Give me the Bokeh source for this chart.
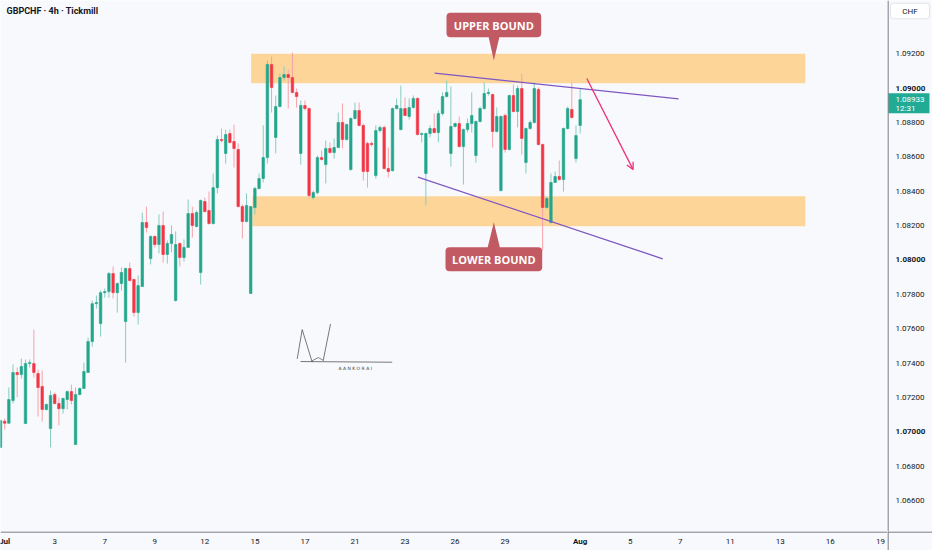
from bokeh.plotting import figure
from bokeh.layouts import row, column
from bokeh.models import Range1d, Label, Arrow, OpenHead, ColumnDataSource, Span
from bokeh.core.properties import value
from bokeh.embed import file_html
from bokeh.resources import INLINE

# ---------------- data (GBPCHF 4h candles) ----------------
opens = [
1.06909, 1.07062, 1.07050, 1.07182, 1.07345, 1.07333, 1.07048, 1.07397, 1.07397, 1.07339,
1.07264, 1.07130, 1.07019, 1.07217, 1.07165, 1.07135, 1.07188, 1.07234, 1.06926, 1.07217,
1.07252, 1.07345, 1.07525, 1.07746, 1.07630, 1.07810, 1.07816, 1.07921, 1.07810, 1.07863,
1.07642, 1.07950, 1.07886, 1.07694, 1.07845, 1.08218, 1.08008, 1.08137, 1.08090, 1.08201,
1.08032, 1.08096, 1.07764, 1.08096, 1.08014, 1.08073, 1.08270, 1.08195, 1.07927, 1.08340,
1.08288, 1.08212, 1.08421, 1.08701, 1.08620, 1.08736, 1.08689, 1.08643, 1.08311, 1.08224,
1.07805, 1.08305, 1.08416, 1.08474, 1.08596, 1.09138, 1.08713, 1.08893, 1.09062, 1.09079,
1.09062, 1.08975, 1.08620, 1.08899, 1.08881, 1.08363, 1.08392, 1.08596, 1.08555, 1.08649,
1.08625, 1.08654, 1.08800, 1.08701, 1.08526, 1.08823, 1.08870, 1.08783, 1.08678, 1.08678,
1.08491, 1.08753, 1.08771, 1.08532, 1.08520, 1.08881, 1.08759, 1.08881, 1.08835, 1.08887,
1.08940, 1.08730, 1.08503, 1.08736, 1.08765, 1.08742, 1.08852, 1.08951, 1.08620, 1.08777,
1.08794, 1.08660, 1.08759, 1.08794, 1.08608, 1.08806, 1.08881, 1.08969, 1.08963, 1.08748,
1.08404, 1.08841, 1.08643, 1.08957, 1.08864, 1.08998, 1.08567, 1.08765, 1.08800, 1.08992,
1.08672, 1.08305, 1.08218, 1.08451, 1.08486, 1.08468, 1.08765, 1.08876, 1.08590, 1.08783,
]
highs = [
1.07066, 1.07077, 1.07258, 1.07392, 1.07374, 1.07426, 1.07421, 1.07421, 1.07595, 1.07362,
1.07357, 1.07165, 1.07240, 1.07229, 1.07200, 1.07200, 1.07240, 1.07275, 1.07258, 1.07258,
1.07403, 1.07549, 1.07764, 1.07793, 1.07822, 1.07834, 1.07930, 1.07962, 1.07869, 1.07956,
1.07956, 1.07985, 1.07892, 1.07910, 1.08276, 1.08311, 1.08143, 1.08143, 1.08265, 1.08282,
1.08114, 1.08201, 1.08166, 1.08102, 1.08120, 1.08352, 1.08311, 1.08288, 1.08352, 1.08363,
1.08398, 1.08503, 1.08724, 1.08765, 1.08759, 1.08759, 1.08788, 1.08678, 1.08323, 1.08387,
1.08311, 1.08427, 1.08503, 1.08783, 1.09161, 1.09184, 1.08957, 1.09085, 1.09126, 1.09108,
1.09207, 1.08998, 1.08928, 1.08928, 1.08887, 1.08404, 1.08608, 1.08637, 1.08695, 1.08684,
1.08707, 1.08858, 1.08911, 1.08794, 1.08830, 1.08916, 1.08916, 1.08794, 1.08689, 1.08689,
1.08783, 1.08783, 1.08783, 1.08654, 1.08887, 1.08940, 1.09015, 1.08946, 1.08940, 1.08957,
1.08946, 1.08742, 1.08742, 1.08783, 1.08852, 1.08870, 1.08975, 1.09044, 1.09010, 1.08800,
1.08835, 1.08765, 1.08823, 1.08975, 1.08812, 1.08893, 1.09033, 1.08998, 1.08969, 1.08887,
1.08841, 1.08852, 1.08963, 1.09021, 1.09015, 1.09085, 1.08771, 1.08812, 1.09033, 1.09004,
1.08678, 1.08369, 1.08503, 1.08515, 1.08579, 1.08771, 1.08893, 1.09033, 1.08783, 1.08998,
]
lows = [
1.06909, 1.07013, 1.07048, 1.07165, 1.07200, 1.07310, 1.07048, 1.07374, 1.07316, 1.07089,
1.07060, 1.07124, 1.06909, 1.07159, 1.07037, 1.07106, 1.07130, 1.07159, 1.06926, 1.07211,
1.07252, 1.07345, 1.07496, 1.07717, 1.07554, 1.07781, 1.07781, 1.07776, 1.07694, 1.07822,
1.07403, 1.07875, 1.07671, 1.07624, 1.07845, 1.08160, 1.07974, 1.08073, 1.08038, 1.07985,
1.07979, 1.08044, 1.07758, 1.07962, 1.07991, 1.08073, 1.08131, 1.08189, 1.07857, 1.08276,
1.08206, 1.08206, 1.08387, 1.08684, 1.08561, 1.08678, 1.08538, 1.08305, 1.08125, 1.08218,
1.07805, 1.08265, 1.08410, 1.08451, 1.08561, 1.08858, 1.08620, 1.08887, 1.09044, 1.08881,
1.08969, 1.08887, 1.08555, 1.08870, 1.08363, 1.08352, 1.08381, 1.08579, 1.08445, 1.08620,
1.08590, 1.08654, 1.08649, 1.08695, 1.08520, 1.08818, 1.08777, 1.08462, 1.08421, 1.08660,
1.08474, 1.08742, 1.08526, 1.08480, 1.08515, 1.08876, 1.08753, 1.08835, 1.08818, 1.08881,
1.08724, 1.08684, 1.08317, 1.08713, 1.08736, 1.08684, 1.08841, 1.08946, 1.08544, 1.08771,
1.08654, 1.08439, 1.08742, 1.08742, 1.08567, 1.08800, 1.08876, 1.08957, 1.08654, 1.08742,
1.08398, 1.08625, 1.08637, 1.08858, 1.08771, 1.08614, 1.08503, 1.08759, 1.08794, 1.08666,
1.08055, 1.08299, 1.08212, 1.08451, 1.08462, 1.08398, 1.08759, 1.08823, 1.08567, 1.08736,
]
closes = [
1.07066, 1.07050, 1.07188, 1.07345, 1.07333, 1.07380, 1.07397, 1.07403, 1.07345, 1.07258,
1.07130, 1.07159, 1.07211, 1.07165, 1.07135, 1.07194, 1.07234, 1.07182, 1.07217, 1.07252,
1.07351, 1.07525, 1.07746, 1.07752, 1.07810, 1.07816, 1.07921, 1.07810, 1.07863, 1.07927,
1.07950, 1.07880, 1.07694, 1.07851, 1.08218, 1.08189, 1.08137, 1.08090, 1.08201, 1.08032,
1.08096, 1.08148, 1.08090, 1.08014, 1.08073, 1.08270, 1.08201, 1.08276, 1.08346, 1.08282,
1.08212, 1.08421, 1.08701, 1.08695, 1.08730, 1.08684, 1.08649, 1.08311, 1.08224, 1.08317,
1.08311, 1.08416, 1.08474, 1.08596, 1.09138, 1.09004, 1.08893, 1.09062, 1.09079, 1.09062,
1.08975, 1.08951, 1.08899, 1.08881, 1.08375, 1.08392, 1.08596, 1.08585, 1.08649, 1.08625,
1.08654, 1.08800, 1.08701, 1.08788, 1.08823, 1.08870, 1.08783, 1.08515, 1.08515, 1.08672,
1.08753, 1.08771, 1.08532, 1.08515, 1.08881, 1.08899, 1.08881, 1.08841, 1.08887, 1.08940,
1.08730, 1.08736, 1.08736, 1.08765, 1.08742, 1.08852, 1.08951, 1.08975, 1.08777, 1.08794,
1.08660, 1.08759, 1.08794, 1.08841, 1.08806, 1.08881, 1.08969, 1.08975, 1.08748, 1.08835,
1.08835, 1.08643, 1.08957, 1.08864, 1.08998, 1.08707, 1.08765, 1.08800, 1.08998, 1.08672,
1.08305, 1.08358, 1.08451, 1.08486, 1.08468, 1.08765, 1.08881, 1.08829, 1.08724, 1.08933,
]

x_tick_pos = [1, 13, 25, 37, 49, 61, 73, 85, 97, 109, 121, 139, 151, 163, 175, 187, 199, 211]
x_tick_labels = ["Jul", "3", "7", "9", "12", "15", "17", "21", "23", "26", "29",
                 "Aug", "5", "7", "11", "13", "16", "19"]
x_bold = ["Jul", "Aug"]
y_ticks = [1.066, 1.068, 1.070, 1.072, 1.074, 1.076, 1.078, 1.080,
           1.082, 1.084, 1.086, 1.088, 1.090, 1.092]
y_bold = [1.070, 1.080, 1.090]
last_price = 1.08933
countdown = "12:31"
currency = "CHF"

# zones, trendlines (data coordinates)
upper_zone = dict(left=60.1, right=193.0, bottom=1.09029, top=1.09200)
lower_zone = dict(left=60.4, right=193.0, bottom=1.08197, top=1.08371)
upper_line_x = [104.1, 162.6]
upper_line_y = [1.09087, 1.08938]
lower_line_x = [100.1, 158.8]
lower_line_y = [1.08482, 1.08007]

# ---------------- style ----------------
BG = "#F8F9FD"
GREEN = "#22A68C"
RED = "#F23645"
GREEN_W = "#86CDBF"
RED_W = "#F7A2A9"
ZONE = "#FDD599"
LBL = "#C25A63"
PURPLE = "#7E57C2"
PINK = "#F0307A"
TXT = "#131722"
AXL = "#50535E"
FONT = "Roboto"

Y0, Y1 = 1.06420, 1.09510
XMAX = 212.7
W_MAIN, W_SCALE, H_MAIN, H_TIME = 887, 45, 531, 19
PX = (Y1 - Y0) / H_MAIN   # price units per pixel


def panel(w, h, xr, yr):
    f = figure(width=w, height=h, x_range=xr, y_range=yr, x_axis_location=None,
               y_axis_location=None, output_backend="svg", toolbar_location=None,
               min_border_left=0, min_border_top=0, min_border_right=0, min_border_bottom=0,
               background_fill_color=BG, border_fill_color=BG)
    f.outline_line_color = None
    f.grid.visible = False
    return f


p = panel(W_MAIN, H_MAIN, Range1d(0, XMAX), Range1d(Y0, Y1))

# zones
p.quad(**upper_zone, fill_color=ZONE, line_color=None)
p.quad(**lower_zone, fill_color=ZONE, line_color=None)

# candles
idx = list(range(len(opens)))
up = [c >= o for o, c in zip(opens, closes)]
src = ColumnDataSource(dict(
    x=idx, o=opens, h=highs, l=lows, c=closes,
    top=[max(o, c) for o, c in zip(opens, closes)],
    bot=[min(o, c) for o, c in zip(opens, closes)],
    col=[GREEN if u else RED for u in up],
    wcol=[GREEN_W if u else RED_W for u in up],
))
p.segment(x0="x", x1="x", y0="l", y1="h", color="wcol", line_width=1, source=src)
p.vbar(x="x", top="top", bottom="bot", width=0.6, fill_color="col",
       line_color="col", line_width=0.6, source=src)

# trend lines
p.line(upper_line_x, upper_line_y, line_color=PURPLE, line_width=1.3)
p.line(lower_line_x, lower_line_y, line_color=PURPLE, line_width=1.3)

# bound labels
p.quad(left=[106.95, 106.71], right=[129.66, 129.90], bottom=[1.09296, 1.07935],
       top=[1.09438, 1.08074], fill_color=LBL, line_color=None, border_radius=4)
p.patch([117.03, 119.66, 118.3], [1.09300, 1.09300, 1.09161], fill_color=LBL, line_color=None)
p.patch([116.79, 119.78, 118.3], [1.08070, 1.08070, 1.08220], fill_color=LBL, line_color=None)
p.text(x=[118.3, 118.3], y=[1.09367, 1.08004], text=["UPPER BOUND", "LOWER BOUND"],
       text_font=value("Open Sans"), text_font_style="bold", text_font_size="11px",
       text_color="white", text_align="center", text_baseline="middle")

# projected move arrow
p.add_layout(Arrow(end=OpenHead(size=7, line_color=PINK, line_width=1.3),
                   x_start=140.6, y_start=1.09056, x_end=151.7, y_end=1.08526,
                   line_color=PINK, line_width=1.3))

# signature
p.line([71.15, 72.35, 74.75], [1.07425, 1.07595, 1.07405], line_color="#555", line_width=0.8)
p.line([79.14, 77.39], [1.07628, 1.07415], line_color="#555", line_width=0.8)
p.line([71.94, 93.93], [1.07409, 1.07405], line_color="#555", line_width=0.8)
p.line([74.6, 76.2, 77.5], [1.07412, 1.07432, 1.07415], line_color="#555", line_width=0.7)
p.text(x=[85.4], y=[1.07366], text=["A A N K O   R A I"], text_font=value("DejaVu Sans"),
       text_font_size="4.5px", text_color="#444", text_align="center", text_baseline="middle")

# title
p.add_layout(Label(x=1.44, y=1.09446, text="GBPCHF · 4h · Tickmill", text_font=FONT,
                   text_font_style="bold", text_font_size="9px", text_color=TXT,
                   text_baseline="middle", text_align="left"))

# ---------------- price scale ----------------
s = panel(W_SCALE, H_MAIN, Range1d(0, W_SCALE), p.y_range)
s.add_layout(Span(location=0.5, dimension="height", line_color=AXL, line_width=1))
reg = [v for v in y_ticks if v not in y_bold]
s.text(x=[8] * len(reg), y=reg, text=[f"{v:.5f}" for v in reg], text_font=value(FONT),
       text_font_size="8px", text_color=TXT, text_align="left", text_baseline="middle")
s.text(x=[8] * len(y_bold), y=y_bold, text=[f"{v:.5f}" for v in y_bold], text_font=value(FONT),
       text_font_style="bold", text_font_size="8px", text_color=TXT, text_align="left",
       text_baseline="middle")
s.quad(left=[1], right=[42], top=[last_price + 6.5 * PX], bottom=[last_price - 13.5 * PX],
       fill_color="#22AB94", line_color=None)
s.text(x=[8, 8], y=[last_price, last_price - 8.5 * PX], text=[f"{last_price:.5f}", countdown],
       text_font=value(FONT), text_font_size="8px", text_color="white",
       text_align="left", text_baseline="middle")
s.quad(left=[3], right=[42], top=[Y1 - 2.7 * PX], bottom=[Y1 - 18.3 * PX],
       fill_color="white", line_color="#E0E3EB", border_radius=3)
s.text(x=[22.5], y=[Y1 - 10.5 * PX], text=[currency], text_font=value(FONT),
       text_font_size="8px", text_color=TXT, text_align="center", text_baseline="middle")

# ---------------- time scale ----------------
t = panel(W_MAIN, H_TIME, p.x_range, Range1d(0, H_TIME))
t.add_layout(Span(location=H_TIME - 0.5, dimension="width", line_color=AXL, line_width=1))
reg_x = [(pos, lab) for pos, lab in zip(x_tick_pos, x_tick_labels) if lab not in x_bold]
bold_x = [(pos, lab) for pos, lab in zip(x_tick_pos, x_tick_labels) if lab in x_bold]
t.text(x=[a for a, _ in reg_x], y=[9.5] * len(reg_x), text=[b for _, b in reg_x],
       text_font=value(FONT), text_font_size="8px", text_color=TXT,
       text_align="center", text_baseline="middle")
t.text(x=[a for a, _ in bold_x], y=[9.5] * len(bold_x), text=[b for _, b in bold_x],
       text_font=value(FONT), text_font_style="bold", text_font_size="8px", text_color=TXT,
       text_align="center", text_baseline="middle")

c = panel(W_SCALE, H_TIME, Range1d(0, W_SCALE), Range1d(0, H_TIME))
c.add_layout(Span(location=H_TIME - 0.5, dimension="width", line_color=AXL, line_width=1))
c.add_layout(Span(location=0.5, dimension="height", line_color=AXL, line_width=1))

layout = column(row(p, s, spacing=0), row(t, c, spacing=0), spacing=0)
open("out.html", "w").write(file_html(layout, INLINE))
